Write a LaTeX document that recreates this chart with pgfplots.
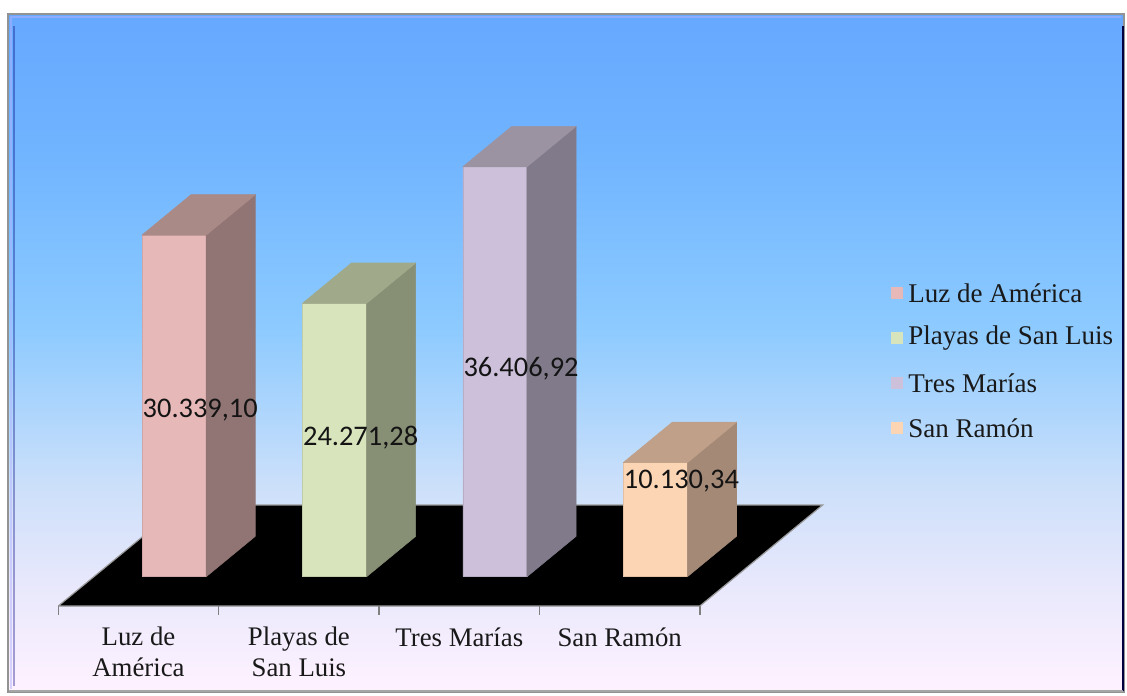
\documentclass[border=0pt]{standalone}
\usepackage{fontspec}
\setmainfont{Liberation Serif}
\newfontfamily\lblfont{Carlito}
\usepackage{pgfplots}
\usepackage{pgfplotstable}
\pgfplotsset{compat=1.18}

\definecolor{F0}{RGB}{230,184,183}
\definecolor{S0}{RGB}{145,117,116}
\definecolor{T0}{RGB}{170,138,134}
\definecolor{F1}{RGB}{215,228,188}
\definecolor{S1}{RGB}{135,143,117}
\definecolor{T1}{RGB}{160,170,139}
\definecolor{F2}{RGB}{204,192,218}
\definecolor{S2}{RGB}{128,122,138}
\definecolor{T2}{RGB}{156,147,162}
\definecolor{F3}{RGB}{252,213,180}
\definecolor{S3}{RGB}{163,137,118}
\definecolor{T3}{RGB}{192,160,136}

\definecolor{bgA}{RGB}{255,242,255}
\definecolor{bgB}{RGB}{232,232,252}
\definecolor{bgC}{RGB}{205,224,250}
\definecolor{bgD}{RGB}{140,202,255}
\definecolor{bgE}{RGB}{112,180,255}
\definecolor{bgF}{RGB}{102,168,255}
\pgfdeclareverticalshading{bgshade}{100bp}{color(0bp)=(bgA); color(25bp)=(bgA); color(33bp)=(bgB); color(40bp)=(bgC); color(52bp)=(bgD); color(65bp)=(bgE); color(75bp)=(bgF); color(100bp)=(bgF)}

\pgfplotstableread{
idx value labelz
0 30339.10 13000
1 24271.28 10600
2 36406.92 16700
3 10130.34 6700
}\data

\tikzset{vlabel/.style={font=\lblfont\fontsize{14.2pt}{16pt}\selectfont, text=black!92, inner sep=0pt}}

\begin{document}
\begin{tikzpicture}
\useasboundingbox (-29.15pt,-44.5pt) rectangle (534.35pt,303pt);
% background with frame
\fill[shading=bgshade] (-25.15pt,-43pt) rectangle (532.85pt,296pt);
\draw[white!70!blue, line width=1.2pt, opacity=0.5] (-23.5pt,-41.5pt) -- (-23.5pt,294.4pt) -- (531.2pt,294.4pt);
\draw[blue!50!black, line width=0.8pt, opacity=0.35] (-22pt,-40pt) -- (-22pt,290pt);
\draw[gray!85, line width=1pt] (-25.15pt,-43pt) rectangle (532.85pt,296pt);
\draw[black!75!blue, line width=1pt] (532.35pt,-42.5pt) -- (532.35pt,290pt);
\draw[gray!70, line width=1.2pt] (-24.6pt,-42.4pt) -- (532.3pt,-42.4pt);

\begin{axis}[
  anchor=origin, at={(0pt,0pt)},
  x={(80.2pt,0pt)}, y={(61.35pt,50.5pt)}, z={(0pt,0.005635pt)},
  xmin=0, xmax=4, ymin=0, ymax=1, zmin=0, zmax=40000,
  hide axis, clip=false,
]
% floor
\addplot3[fill=black, draw=gray!80, line width=0.6pt] coordinates {(0,0,0) (4,0,0) (4,1,0) (0,1,0) (0,0,0)};
% ticks
\pgfplotsinvokeforeach{0,1,2,3,4}{
  \draw[gray, line width=0.7pt] (axis cs:#1,0,0) -- ++(0pt,-4.5pt);
}
% bars
\pgfplotsinvokeforeach{0,1,2,3}{
  \pgfplotstablegetelem{#1}{value}\of\data \let\v\pgfplotsretval
  \pgfplotstablegetelem{#1}{labelz}\of\data \let\lz\pgfplotsretval
  \pgfmathsetmacro\xa{#1+0.3}
  \pgfmathsetmacro\xb{#1+0.7}
  \pgfmathsetmacro\xc{#1+0.51}
  \edef\cmd{%
    \noexpand\addplot3[fill=F#1, draw=F#1!90!black, line width=0.3pt] coordinates {(\xa,0.29,0) (\xb,0.29,0) (\xb,0.29,\v) (\xa,0.29,\v) (\xa,0.29,0)};
    \noexpand\addplot3[fill=S#1, draw=S#1, line width=0.3pt] coordinates {(\xb,0.29,0) (\xb,0.69,0) (\xb,0.69,\v) (\xb,0.29,\v) (\xb,0.29,0)};
    \noexpand\addplot3[fill=T#1, draw=T#1, line width=0.3pt] coordinates {(\xa,0.29,\v) (\xb,0.29,\v) (\xb,0.69,\v) (\xa,0.69,\v) (\xa,0.29,\v)};
    \noexpand\node[vlabel] at (axis cs:\xc,0.49,\lz) {\noexpand\pgfmathprintnumber[fixed, fixed zerofill, precision=2, use comma, 1000 sep={.}, assume math mode=true]{\v}};
  }\cmd
}
% category labels
\tikzset{catlab/.style={anchor=north, align=center, inner sep=0pt, font=\fontsize{13.4pt}{15.5pt}\selectfont, text=black!90}}
\node[catlab] at ([yshift=-10.5pt]axis cs:0.5,0,0) {Luz de\\América};
\node[catlab] at ([yshift=-10.5pt]axis cs:1.5,0,0) {Playas de\\San Luis};
\node[catlab] at ([yshift=-10.5pt]axis cs:2.5,0,0) {Tres Marías};
\node[catlab] at ([yshift=-10.5pt]axis cs:3.5,0,0) {San Ramón};
\end{axis}

% legend
\tikzset{legtxt/.style={anchor=west, inner sep=0pt, font=\fontsize{13.5pt}{15pt}\selectfont, text=black!90}}
\foreach \c/\t/\yy in {0/Luz de América/156.5, 1/Playas de San Luis/134, 2/Tres Marías/111.5, 3/San Ramón/89} {
  \fill[F\c] (416.35pt,\yy pt-3pt) rectangle ++(6pt,6pt);
  \node[legtxt] at (424.85pt,\yy pt) {\t};
}
\end{tikzpicture}
\end{document}
